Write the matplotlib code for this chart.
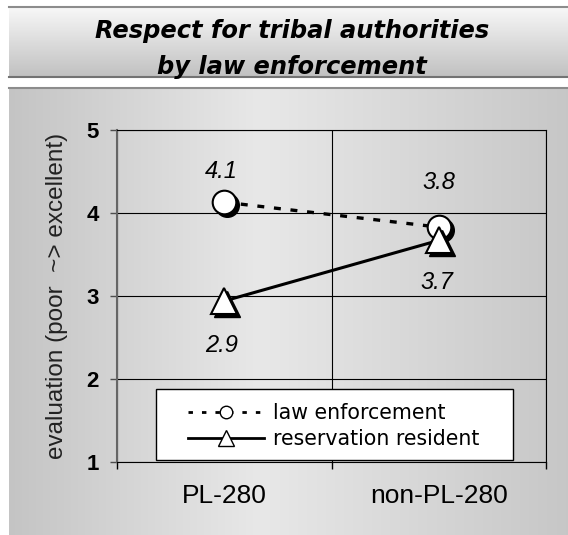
import matplotlib

matplotlib.use("Agg")
import matplotlib.pyplot as plt
import numpy as np
from matplotlib import transforms
from matplotlib.lines import Line2D
from matplotlib.patches import Rectangle

plt.rcParams["font.family"] = ["Liberation Sans", "DejaVu Sans"]
plt.rcParams["lines.scale_dashes"] = False

# data
categories = ["PL-280", "non-PL-280"]
law_enforcement = [4.13, 3.83]
reservation_resident = [2.94, 3.67]
series_names = ["law enforcement", "reservation resident"]
y_ticks = [1, 2, 3, 4, 5]

# value-label offsets (points)
LAW_OFFS = [(-2, 22), (0, 32)]
RES_OFFS = [(-2, -32), (-1, -30)]

W, H = 568, 535
fig = plt.figure(figsize=(W / 100, H / 100), dpi=100, facecolor="white")

# ---- background: title banner + gradient panel (pixel coords) ----
bg = fig.add_axes([0, 0, 1, 1], zorder=0)
banner = np.linspace(0.97, 0.76, 64)[:, None, None] * np.ones((1, 1, 3))
bg.imshow(banner, extent=(9, W, 76, 7), aspect="auto", interpolation="bilinear")
shade = np.interp(np.linspace(0, 1, 256), [0, 0.45, 1], [0.77, 0.91, 0.78])
panel = shade[None, :, None] * np.ones((1, 1, 3))
bg.imshow(panel, extent=(9, W, H, 87), aspect="auto", interpolation="bilinear")
bg.plot([9, W], [6.5, 6.5], color="0.55", lw=1.5)
bg.plot([9, W], [76.5, 76.5], color="0.45", lw=1.5)
bg.plot([9, W], [87.5, 87.5], color="0.55", lw=1.5)
bg.set_xlim(0, W)
bg.set_ylim(H, 0)
bg.axis("off")
for ty, line in [(31, "Respect for tribal authorities"), (67, "by law enforcement")]:
    bg.text(292, ty, line, ha="center", va="center", fontsize=17.4,
            fontweight="bold", style="italic", family="DejaVu Sans")

# ---- plot area ----
ax = fig.add_axes([117 / W, 1 - 462 / H, (546 - 117) / W, (462 - 130) / H], zorder=1)
ax.patch.set_visible(False)
x = np.arange(1, len(categories) + 1)
shadow = transforms.offset_copy(ax.transData, fig=fig, x=3, y=-3, units="dots")

ax.plot(x, law_enforcement, color="black", lw=2.4, dashes=(5, 7), zorder=3)
ax.plot(x, law_enforcement, ls="none", marker="o", ms=17, mfc="black", mec="black",
        transform=shadow, zorder=4)
ax.plot(x, law_enforcement, ls="none", marker="o", ms=17, mfc="white", mec="black",
        mew=1.5, zorder=5)
ax.plot(x, reservation_resident, color="black", lw=2.2, zorder=6)
ax.plot(x, reservation_resident, ls="none", marker="^", ms=19, mfc="black", mec="black",
        transform=shadow, zorder=7)
ax.plot(x, reservation_resident, ls="none", marker="^", ms=19, mfc="white", mec="black",
        mew=1.5, zorder=8)

for xi, v, off in zip(x, law_enforcement, LAW_OFFS):
    ax.annotate(f"{v:.1f}", (xi, v), xytext=off, textcoords="offset points",
                ha="center", va="center", fontsize=17, style="italic")
for xi, v, off in zip(x, reservation_resident, RES_OFFS):
    ax.annotate(f"{v:.1f}", (xi, v), xytext=off, textcoords="offset points",
                ha="center", va="center", fontsize=17, style="italic")

ax.set_xlim(0.5, len(categories) + 0.5)
ax.set_ylim(min(y_ticks), max(y_ticks))
ax.set_yticks(y_ticks)
ax.set_yticklabels([str(t) for t in y_ticks], fontsize=16, fontweight="bold")
ax.tick_params(axis="y", direction="out", length=5, width=1, pad=8, color="0.3")
ax.set_xticks(x)
ax.set_xticklabels(categories, fontsize=19)
ax.tick_params(axis="x", which="major", length=0, pad=16)
ax.set_xticks(np.arange(0.5, len(categories) + 1, 1.0), minor=True)
ax.tick_params(axis="x", which="minor", direction="out", length=5, width=1)
ax.grid(axis="y", which="major", color="black", lw=0.8)
ax.grid(axis="x", which="minor", color="black", lw=0.8)
ax.set_axisbelow(True)
ax.spines["left"].set_color("0.4")
ax.spines["left"].set_linewidth(1.5)
for s in ("top", "right", "bottom"):
    ax.spines[s].set_color("black")
    ax.spines[s].set_linewidth(0.8)

fig.text(57 / W, 1 - 296 / H, "evaluation (poor  ~> excellent)", rotation=90,
         ha="center", va="center", fontsize=17.5, color="#222222")

# ---- legend (frame drawn separately so content can sit centred) ----
ax.add_patch(Rectangle((39 / 429, 2 / 332), 357 / 429, 71 / 332, transform=ax.transAxes,
                       facecolor="white", edgecolor="black", lw=1, zorder=9))
handles = [
    Line2D([], [], color="black", lw=2, dashes=(3.2, 6.5), marker="o", ms=9,
           mfc="white", mec="black", mew=1),
    Line2D([], [], color="black", lw=2, marker="^", ms=11, mfc="white", mec="black", mew=1),
]
leg = ax.legend(handles, series_names, loc="center left",
                bbox_to_anchor=((188 - 117) / 429, (462 - 426) / 332), borderaxespad=0,
                borderpad=0, frameon=False, handlelength=3.7, handletextpad=0.45,
                labelspacing=0.3, prop={"family": "DejaVu Sans", "size": 14.8})
leg.set_zorder(10)

fig.savefig("out.png", dpi=100, facecolor="white")
